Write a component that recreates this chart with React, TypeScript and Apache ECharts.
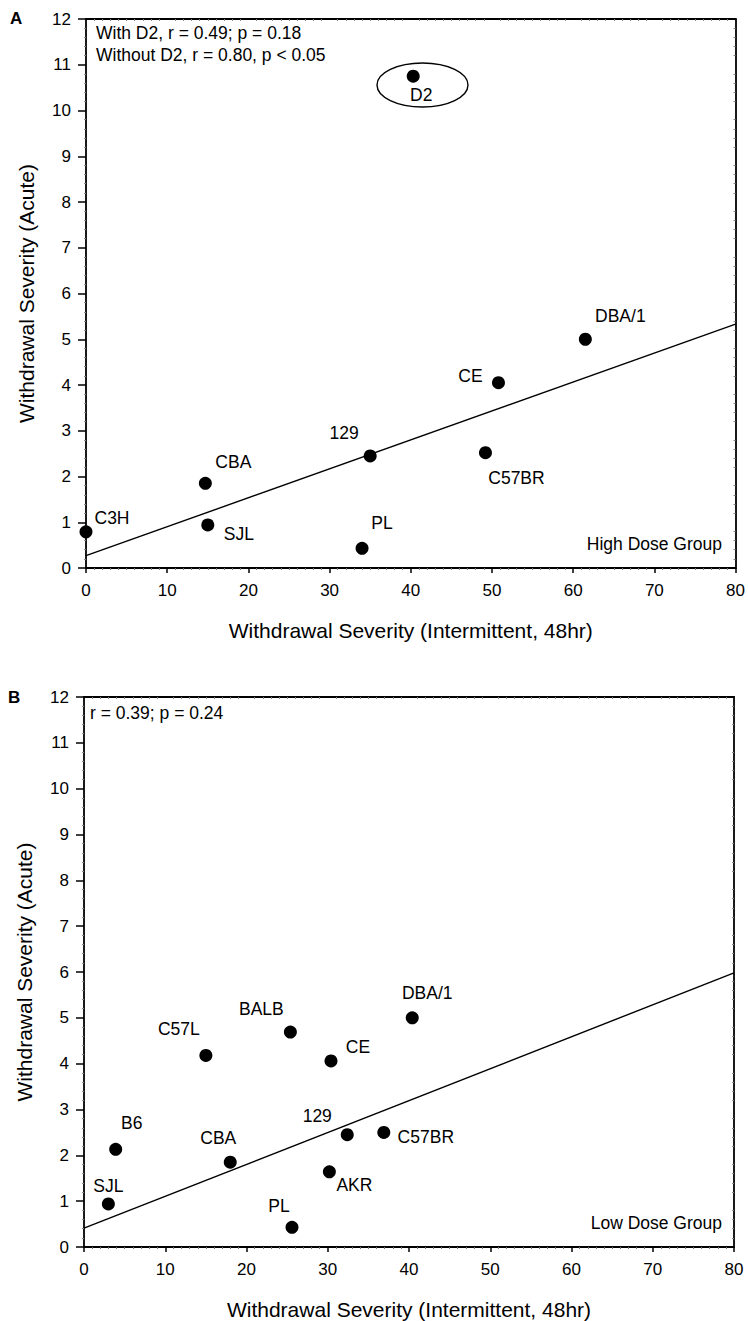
import React, { useEffect, useRef } from "react";
import * as echarts from "echarts";

// ---- Data ----
const strainsHigh = ["C3H", "CBA", "SJL", "129", "PL", "C57BR", "CE", "DBA/1", "D2"];
const intermittentHigh = [0, 14.7, 15.0, 35.0, 34.0, 49.2, 50.8, 61.5, 40.3];
const acuteHigh = [0.79, 1.85, 0.94, 2.45, 0.43, 2.52, 4.05, 5.0, 10.75];

const strainsLow = ["SJL", "B6", "CBA", "C57L", "BALB", "CE", "129", "AKR", "PL", "DBA/1", "C57BR"];
const intermittentLow = [3.0, 3.9, 18.0, 15.0, 25.4, 30.4, 32.4, 30.2, 25.6, 40.4, 36.9];
const acuteLow = [0.94, 2.13, 1.85, 4.18, 4.69, 4.06, 2.45, 1.64, 0.43, 5.0, 2.5];

const fitHighX = [0, 80];
const fitHighY = [0.27, 5.33];
const fitLowX = [0, 80];
const fitLowY = [0.41, 5.98];

const xAxisMin = 0;
const xAxisMax = 80;
const xAxisStep = 10;
const yAxisMin = 0;
const yAxisMax = 12;
const yAxisStep = 1;

const xTitle = "Withdrawal Severity (Intermittent, 48hr)";
const yTitle = "Withdrawal Severity (Acute)";
const statsHigh = ["With D2, r = 0.49; p = 0.18", "Without D2, r = 0.80, p < 0.05"];
const statsLow = ["r = 0.39; p = 0.24"];
const groupHigh = "High Dose Group";
const groupLow = "Low Dose Group";

// ---- Label offsets (styling, pixels from point centre) ----
const labelOffsetHigh: Record<string, [number, number]> = {
  C3H: [26, -14],
  CBA: [28, -21],
  SJL: [31, 9],
  "129": [-26, -23],
  PL: [20, -25],
  C57BR: [31, 25],
  CE: [-28, -7],
  "DBA/1": [35, -23],
  D2: [8, 19],
};
const labelOffsetLow: Record<string, [number, number]> = {
  SJL: [0, -18],
  B6: [16, -26],
  CBA: [-12, -24],
  C57L: [-27, -26],
  BALB: [-29, -23],
  CE: [27, -14],
  "129": [-30, -19],
  AKR: [25, 13],
  PL: [-13, -21],
  "DBA/1": [15, -25],
  C57BR: [42, 5],
};

const FONT = '"Liberation Sans", Arial, Helvetica, sans-serif';

function buildPoints(names: string[], xs: number[], ys: number[], offsets: Record<string, [number, number]>) {
  return names.map((n, i) => ({
    name: n,
    value: [xs[i], ys[i]],
    label: { offset: offsets[n] || [0, -18] },
  }));
}

function axesFor(gridIndex: number) {
  const common = { min: xAxisMin, max: xAxisMax, interval: xAxisStep, gridIndex };
  const xs = [
    {
      ...common,
      type: "value",
      position: "bottom",
      name: xTitle,
      nameLocation: "middle",
      nameGap: 52,
      nameTextStyle: { fontFamily: FONT, fontSize: 21, color: "#000" },
      axisLine: { show: true, onZero: false, lineStyle: { color: "#000", width: 1.8 } },
      axisTick: { show: true, length: 5, lineStyle: { color: "#000", width: 1.5 } },
      minorTick: { show: true, splitNumber: 10, length: 2, lineStyle: { color: "#777", width: 1 } },
      axisLabel: { fontFamily: FONT, fontSize: 17, color: "#000", margin: 14 },
      splitLine: { show: false },
    },
    {
      ...common,
      type: "value",
      position: "top",
      axisLine: { show: true, onZero: false, lineStyle: { color: "#000", width: 1.8 } },
      axisTick: { show: false, inside: true },
      minorTick: { show: true, splitNumber: 10, length: 2, lineStyle: { color: "#888", width: 1 } },
      axisLabel: { show: false },
      splitLine: { show: false },
    },
  ];
  const ycommon = { min: yAxisMin, max: yAxisMax, interval: yAxisStep, gridIndex };
  const ys = [
    {
      ...ycommon,
      type: "value",
      position: "left",
      name: yTitle,
      nameLocation: "middle",
      nameGap: 49,
      nameTextStyle: { fontFamily: FONT, fontSize: 21, color: "#000" },
      axisLine: { show: true, onZero: false, lineStyle: { color: "#000", width: 1.8 } },
      axisTick: { show: true, length: 8, lineStyle: { color: "#000", width: 1.5 } },
      minorTick: { show: true, splitNumber: 5, length: 2, lineStyle: { color: "#888", width: 1 } },
      axisLabel: { fontFamily: FONT, fontSize: 17, color: "#000", margin: 15 },
      splitLine: { show: false },
    },
    {
      ...ycommon,
      type: "value",
      position: "right",
      axisLine: { show: true, onZero: false, lineStyle: { color: "#000", width: 1.8 } },
      axisTick: { show: false, inside: true },
      minorTick: { show: true, splitNumber: 5, length: 2, lineStyle: { color: "#888", width: 1 } },
      axisLabel: { show: false },
      splitLine: { show: false },
    },
  ];
  return { xs, ys };
}

export default function App() {
  const ref = useRef<HTMLDivElement>(null);

  useEffect(() => {
    if (!ref.current) return;
    const chart = echarts.init(ref.current, undefined, { renderer: "svg" });
    const a = axesFor(0);
    const b = axesFor(1);

    const scatterLabel = {
      show: true,
      formatter: "{b}",
      position: [6.5, 6.5],
      align: "center",
      verticalAlign: "middle",
      fontFamily: FONT,
      fontSize: 17.5,
      color: "#000",
      opacity: 1,
      textBorderWidth: 0,
    };

    const textStyle = (extra: any) => ({
      fontFamily: FONT,
      fontSize: 17.5,
      fill: "#000",
      ...extra,
    });

    chart.setOption({
      animation: false,
      backgroundColor: "#fff",
      grid: [
        { left: 86, top: 19, width: 651, height: 549 },
        { left: 84, top: 697, width: 650, height: 550 },
      ],
      xAxis: [...a.xs, ...b.xs],
      yAxis: [...a.ys, ...b.ys],
      series: [
        {
          type: "line",
          xAxisIndex: 0,
          yAxisIndex: 0,
          data: fitHighX.map((x, i) => [x, fitHighY[i]]),
          symbol: "none",
          lineStyle: { color: "#000", width: 1.4 },
          z: 2,
        },
        {
          type: "scatter",
          xAxisIndex: 0,
          yAxisIndex: 0,
          symbol: "circle",
          symbolSize: 13,
          itemStyle: { color: "#000", opacity: 1 },
          data: buildPoints(strainsHigh, intermittentHigh, acuteHigh, labelOffsetHigh),
          label: scatterLabel,
          z: 3,
        },
        {
          type: "line",
          xAxisIndex: 2,
          yAxisIndex: 2,
          data: fitLowX.map((x, i) => [x, fitLowY[i]]),
          symbol: "none",
          lineStyle: { color: "#000", width: 1.4 },
          z: 2,
        },
        {
          type: "scatter",
          xAxisIndex: 2,
          yAxisIndex: 2,
          symbol: "circle",
          symbolSize: 13,
          itemStyle: { color: "#000", opacity: 1 },
          data: buildPoints(strainsLow, intermittentLow, acuteLow, labelOffsetLow),
          label: scatterLabel,
          z: 3,
        },
      ],
      graphic: [
        { type: "text", left: 10, top: 10, style: textStyle({ text: "A", fontWeight: "bold", fontSize: 17 }) },
        { type: "text", left: 8, top: 689, style: textStyle({ text: "B", fontWeight: "bold", fontSize: 17 }) },
        { type: "text", x: 96, y: 33, style: textStyle({ text: statsHigh[0], verticalAlign: "middle" }) },
        { type: "text", x: 96, y: 55, style: textStyle({ text: statsHigh[1], verticalAlign: "middle" }) },
        { type: "text", x: 90, y: 713, style: textStyle({ text: statsLow[0], verticalAlign: "middle" }) },
        { type: "text", x: 722, y: 544, style: textStyle({ text: groupHigh, align: "right", verticalAlign: "middle" }) },
        { type: "text", x: 722, y: 1223, style: textStyle({ text: groupLow, align: "right", verticalAlign: "middle" }) },
        {
          type: "ellipse",
          shape: { cx: 422.5, cy: 85, rx: 45.5, ry: 22 },
          style: { fill: "none", stroke: "#000", lineWidth: 1.4 },
          z: 10,
        },
      ],
    });
    return () => chart.dispose();
  }, []);

  return (
    <div
      ref={ref}
      style={{ position: "absolute", left: 0, top: 0, width: 748, height: 1321, background: "#fff" }}
    />
  );
}
